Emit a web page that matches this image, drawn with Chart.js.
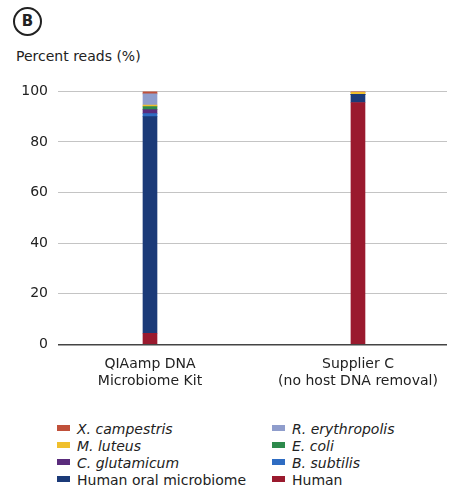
<!DOCTYPE html>
<html>
<head>
<meta charset="utf-8">
<script src="https://cdn.jsdelivr.net/npm/chart.js@4/dist/chart.umd.min.js"></script>
<style>
  body { margin: 0; background: #fff; font-family: "DejaVu Sans", sans-serif; color: #222; }
  #wrap { position: relative; width: 454px; height: 499px; }
  #badge { position: absolute; left: 13px; top: 7px; width: 25px; height: 25px; border: 2px solid #222;
           border-radius: 50%; text-align: center; line-height: 25px; font-weight: bold; font-size: 15px; }
  #ytitle { position: absolute; left: 16px; top: 48px; font-size: 14px; }
  #chartBox { position: absolute; left: 0; top: 73px; width: 454px; height: 330px; }
  #legend { position: absolute; left: 57px; top: 421px; display: grid; grid-template-columns: 215px 180px;
            row-gap: 0; font-size: 14px; line-height: 17px; }
  #legend div { white-space: nowrap; }
  #legend span.box { display: inline-block; width: 13px; height: 6px; margin-right: 7px; vertical-align: 3px; }
  #legend i { font-style: italic; }
</style>
</head>
<body>
<div id="wrap">
  <div id="badge">B</div>
  <div id="ytitle">Percent reads (%)</div>
  <div id="chartBox"><canvas id="barChart"></canvas></div>
  <div id="legend"></div>
</div>
<script>
// categories (x axis)
var categories = [['QIAamp DNA', 'Microbiome Kit'], ['Supplier C', '(no host DNA removal)']]
var yTicks = [0, 20, 40, 60, 80, 100]

// percent reads per category, bottom of the stack first
var human = [4.4, 95.6]
var humanOral = [85.6, 3.2]
var bSubtilis = [1.2, 0]
var cGlutamicum = [1.6, 0]
var eColi = [1.2, 0]
var mLuteus = [0.6, 0.8]
var rErythropolis = [4.4, 0]
var xCampestris = [1.0, 0.4]

var series = [
    { label: 'Human', data: human, color: '#9a1a2e', italic: false },
    { label: 'Human oral microbiome', data: humanOral, color: '#1b3a78', italic: false },
    { label: 'B. subtilis', data: bSubtilis, color: '#2e6cc2', italic: true },
    { label: 'C. glutamicum', data: cGlutamicum, color: '#5a2c7c', italic: true },
    { label: 'E. coli', data: eColi, color: '#2d8a4c', italic: true },
    { label: 'M. luteus', data: mLuteus, color: '#f0bf2c', italic: true },
    { label: 'R. erythropolis', data: rErythropolis, color: '#8f9dcc', italic: true },
    { label: 'X. campestris', data: xCampestris, color: '#c0503a', italic: true },
]

var ctx = document.getElementById('barChart').getContext('2d')
new Chart(ctx, {
    type: 'bar',
    data: {
        datasets: series.map(function (s) {
            return {
                label: s.label,
                data: s.data.map(function (v, i) { return { x: i, y: v } }),
                backgroundColor: s.color,
                barThickness: 14,
            }
        })
    },
    options: {
        responsive: true,
        maintainAspectRatio: false,
        animation: false,
        layout: { padding: { top: 6, right: 7, left: 0, bottom: 9 } },
        plugins: { legend: { display: false }, tooltip: { enabled: false } },
        scales: {
            x: {
                type: 'linear',
                stacked: true,
                offset: false,
                min: -0.4423,
                max: 1.428,
                grid: { display: false },
                border: { display: false },
                afterBuildTicks: function (scale) {
                    scale.ticks = categories.map(function (c, i) { return { value: i } })
                },
                ticks: {
                    autoSkip: false,
                    maxRotation: 0,
                    padding: 4,
                    color: '#222',
                    font: { family: 'DejaVu Sans', size: 14 },
                    callback: function (v) { return categories[v] }
                }
            },
            y: {
                stacked: true,
                min: 0,
                max: 100,
                afterBuildTicks: function (scale) {
                    scale.ticks = yTicks.map(function (v) { return { value: v } })
                },
                afterFit: function (scale) { scale.width = 58 },
                border: { display: false },
                grid: {
                    drawTicks: false,
                    color: function (c) { return c.tick && c.tick.value === 0 ? '#444' : '#c4c4c4' },
                    lineWidth: function (c) { return c.tick && c.tick.value === 0 ? 1.6 : 1 }
                },
                ticks: {
                    padding: 10,
                    color: '#222',
                    font: { family: 'DejaVu Sans', size: 14 }
                }
            }
        }
    }
})

// legend in two columns, top of the stack first
var legendOrder = [7, 6, 5, 4, 3, 2, 1, 0]
var legend = document.getElementById('legend')
legendOrder.forEach(function (k) {
    var s = series[k]
    var d = document.createElement('div')
    d.innerHTML = '<span class="box" style="background:' + s.color + '"></span>' +
        (s.italic ? '<i>' + s.label + '</i>' : s.label)
    legend.appendChild(d)
})
</script>
</body>
</html>
